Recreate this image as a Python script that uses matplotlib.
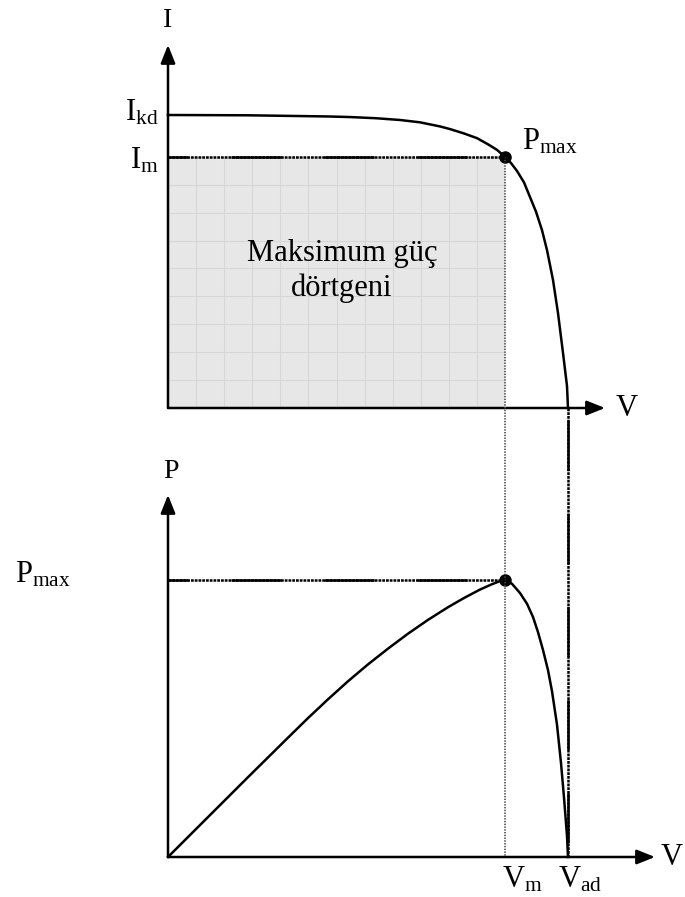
import matplotlib
matplotlib.use("Agg")
import matplotlib.pyplot as plt
from matplotlib.lines import Line2D
from matplotlib.patches import Rectangle

plt.rcParams["font.family"] = ["Liberation Serif", "DejaVu Serif"]
plt.rcParams["mathtext.fontset"] = "custom"
plt.rcParams["mathtext.rm"] = "Liberation Serif"
plt.rcParams["mathtext.it"] = "Liberation Serif:italic"
plt.rcParams["lines.scale_dashes"] = False

# I-V characteristic of the cell (V normalised to V_ad, I normalised to I_kd)
iv_voltage = [0.0, 0.2, 0.3, 0.4, 0.455, 0.52, 0.58, 0.63, 0.68, 0.705,
              0.74, 0.7725, 0.80, 0.8225, 0.8425, 0.8575, 0.8725, 0.89,
              0.905, 0.92, 0.935, 0.9475, 0.9625, 0.975, 0.9875, 0.9975, 1.0]
iv_current = [1.0, 0.999, 0.997, 0.995, 0.993, 0.989, 0.983, 0.975, 0.961, 0.952,
              0.937, 0.921, 0.900, 0.881, 0.857, 0.836, 0.809, 0.770,
              0.720, 0.670, 0.607, 0.539, 0.437, 0.324, 0.188, 0.075, 0.0]

# P-V characteristic on the same voltage scale
pv_voltage = [0.0, 0.10, 0.20, 0.30, 0.35, 0.40, 0.45, 0.50, 0.55, 0.60,
              0.65, 0.70, 0.74, 0.78, 0.81, 0.83, 0.8425, 0.86, 0.88, 0.8975,
              0.9125, 0.925, 0.9375, 0.95, 0.96, 0.9725, 0.9825, 0.99, 0.9975,
              1.0]
pv_power = [0.0, 0.104, 0.208, 0.311, 0.362, 0.411, 0.458, 0.502, 0.543, 0.582,
            0.618, 0.651, 0.675, 0.697, 0.711, 0.719, 0.722, 0.712, 0.688, 0.660,
            0.6255, 0.586, 0.5395, 0.487, 0.432, 0.345, 0.245, 0.155, 0.055,
            0.0]

# Characteristic points
V_M, I_M, P_MAX = 0.8425, 0.857, 0.722
V_AD, I_KD = 1.0, 1.0

W, H = 685, 897
fig = plt.figure(figsize=(W / 100, H / 100), dpi=100)


def rect(left, bottom, right, top):
    return [left / W, 1 - bottom / H, (right - left) / W, (bottom - top) / H]


# I-V panel: 400 px per volt unit, 293 px per current unit
ax1 = fig.add_axes(rect(168, 408, 640, 30))
ax1.set_xlim(0, (640 - 168) / 400)
ax1.set_ylim(0, (408 - 30) / 293)
ax1.set_axis_off()

# P-V panel: same voltage scale, 383.7 px per power unit
ax2 = fig.add_axes(rect(168, 857, 685, 470))
ax2.set_xlim(0, (685 - 168) / 400)
ax2.set_ylim(0, (857 - 470) / 383.7)
ax2.set_axis_off()

LW = 1.8
BIG = 22
SMALL = 20
DOTS = (0, (2.0, 0.7))
ARROW = dict(arrowstyle="-|>,head_length=0.55,head_width=0.22", lw=LW,
             color="black", mutation_scale=20, shrinkA=0, shrinkB=0)


def axis_arrow(ax, start, end):
    ax.annotate("", xy=end, xytext=start, xycoords="data",
                arrowprops=ARROW, annotation_clip=False)


def marked_line(xs, ys, offset, transform):
    # dense dotted base with long solid dashes laid over it
    for style in (DOTS, (offset, (36, 31))):
        fig.add_artist(Line2D(xs, ys, color="black", lw=LW, linestyle=style,
                              dash_capstyle="butt", transform=transform,
                              zorder=4))


def link(pt_top, pt_bottom):
    # points of the two panels expressed in figure fractions
    inv = fig.transFigure.inverted()
    a = inv.transform(ax1.transData.transform(pt_top))
    b = inv.transform(ax2.transData.transform(pt_bottom))
    return [a[0], b[0]], [a[1], b[1]]


# --- maximum power rectangle with its grid ---
ax1.add_patch(Rectangle((0, 0), V_M, I_M, facecolor="#e7e7e7",
                        edgecolor="none", zorder=1))
for k in range(1, 12):
    ax1.plot([V_M * k / 12] * 2, [0, I_M], color="#d6d6d6", lw=0.8, zorder=2)
for k in range(1, 9):
    ax1.plot([0, V_M], [I_M * k / 9] * 2, color="#d6d6d6", lw=0.8, zorder=2)
ax1.text(0.435, 0.4676, "Maksimum güç\ndörtgeni", fontsize=BIG,
         ha="center", va="center", linespacing=1.22, zorder=5)

# --- I-V panel ---
axis_arrow(ax1, (0, 0), (1.0925, 0))
axis_arrow(ax1, (0, 0), (0, 1.239))
marked_line([0, V_M], [I_M, I_M], 21.6, ax1.transData)
ax1.plot(iv_voltage, iv_current, color="black", lw=LW, zorder=5,
         solid_joinstyle="round", clip_on=False)
ax1.plot([V_M], [I_M], "o", color="black", ms=8, zorder=6)

ax1.annotate("I", xy=(0, 1.239), xytext=(0, 13), textcoords="offset points",
             fontsize=SMALL, ha="center", va="baseline", annotation_clip=False)
ax1.annotate(r"$\mathrm{I}_{\mathrm{kd}}$", xy=(0, I_KD), xytext=(-7, -4),
             textcoords="offset points", fontsize=BIG, ha="right",
             va="baseline", annotation_clip=False)
ax1.annotate(r"$\mathrm{I}_{\mathrm{m}}$", xy=(0, I_M), xytext=(-6.5, -8),
             textcoords="offset points", fontsize=BIG, ha="right",
             va="baseline", annotation_clip=False)
ax1.annotate(r"$\mathrm{P}_{\mathrm{max}}$", xy=(V_M, I_M), xytext=(12, 5),
             textcoords="offset points", fontsize=BIG, ha="left",
             va="baseline", annotation_clip=False)
ax1.annotate("V", xy=(1.0925, 0), xytext=(8, 0), textcoords="offset points",
             fontsize=BIG, ha="left", va="center", annotation_clip=False)

# --- P-V panel ---
axis_arrow(ax2, (0, 0), (1.2175, 0))
axis_arrow(ax2, (0, 0), (0, 0.9435))
marked_line([0, V_M], [P_MAX, P_MAX], 21.6, ax2.transData)
ax2.plot(pv_voltage, pv_power, color="black", lw=LW, zorder=5,
         solid_joinstyle="round", clip_on=False)
ax2.plot([V_M], [P_MAX], "o", color="black", ms=8, zorder=6)

ax2.annotate("P", xy=(0, 0.9435), xytext=(2, 12), textcoords="offset points",
             fontsize=SMALL, ha="center", va="baseline", annotation_clip=False)
ax2.annotate(r"$\mathrm{P}_{\mathrm{max}}$", xy=(0, P_MAX), xytext=(-110, -2),
             textcoords="offset points", fontsize=BIG, ha="left",
             va="baseline", annotation_clip=False)
ax2.annotate("V", xy=(1.2175, 0), xytext=(4, 0), textcoords="offset points",
             fontsize=BIG, ha="left", va="center", annotation_clip=False)
ax2.annotate(r"$\mathrm{V}_{\mathrm{m}}$", xy=(V_M, 0), xytext=(-2, -22),
             textcoords="offset points", fontsize=BIG, ha="left",
             va="baseline", annotation_clip=False)
ax2.annotate(r"$\mathrm{V}_{\mathrm{ad}}$", xy=(V_AD, 0), xytext=(-7, -22),
             textcoords="offset points", fontsize=BIG, ha="left",
             va="baseline", annotation_clip=False)

# --- projection lines linking both panels ---
xs, ys = link((V_M, I_M), (V_M, 0))
fig.add_artist(Line2D(xs, ys, color="#4a4a4a", lw=1.2,
                      linestyle=(0, (1.0, 1.0)), transform=fig.transFigure,
                      zorder=3))
xs, ys = link((V_AD, 0), (V_AD, 0))
marked_line(xs, ys, 58, fig.transFigure)

fig.savefig("out.png", dpi=100, facecolor="white")
